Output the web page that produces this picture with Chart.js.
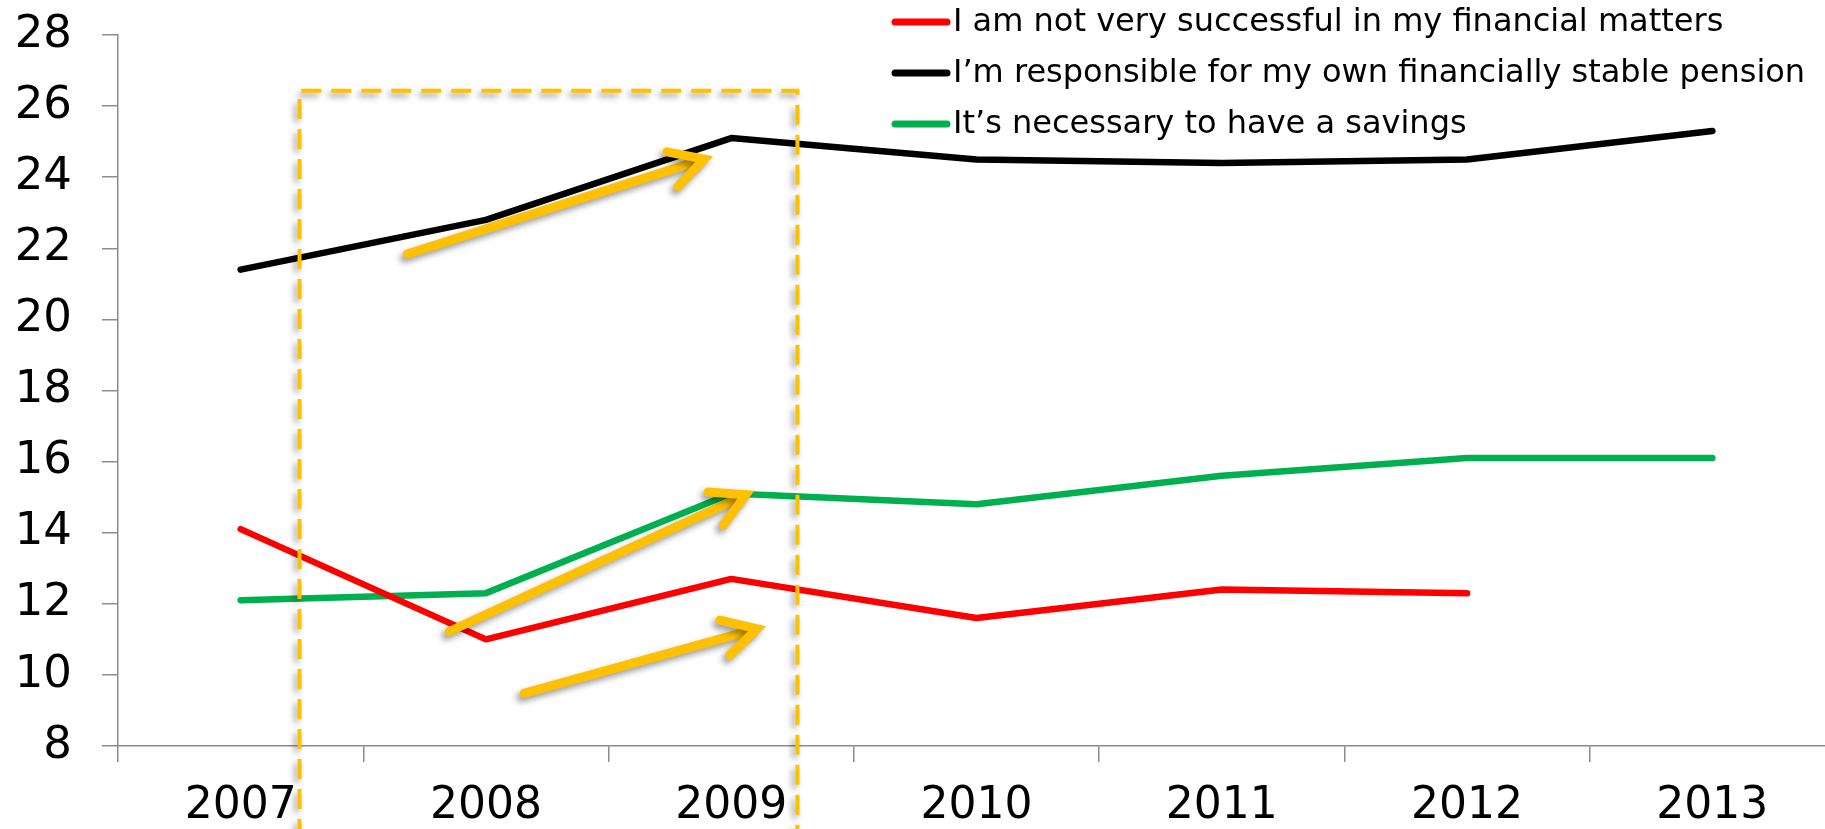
<!DOCTYPE html>
<html>
<head>
<meta charset="utf-8">
<script src="https://cdn.jsdelivr.net/npm/chart.js@4"></script>
<style>
  html, body { margin: 0; padding: 0; background: #fff; overflow: hidden; }
  #wrap { width: 1840px; height: 829px; }
</style>
</head>
<body>
<div id="wrap"><canvas id="trendChart" width="1840" height="829"></canvas></div>
<script>
// Chart values
const years = ['2007', '2008', '2009', '2010', '2011', '2012', '2013'];
const notSuccessful = [14.1, 11.0, 12.7, 11.6, 12.4, 12.3, null];
const ownPension = [21.4, 22.8, 25.1, 24.5, 24.4, 24.5, 25.3];
const needSavings = [12.1, 12.3, 15.1, 14.8, 15.6, 16.1, 16.1];
const yMin = 8;
const yMax = 28;
const yStep = 2;

const seriesLabels = [
  'I am not very successful in my financial matters',
  'I\u2019m responsible for my own financially stable pension',
  'It\u2019s necessary to have a savings'
];

// Highlight annotations, in category index / value units
const highlightBox = { x0: 0.24, x1: 2.27, yTop: 26.43 };
const arrows = [
  [0.68, 21.84, 1.89, 24.51],
  [0.85, 11.22, 2.06, 15.07],
  [1.155, 9.48, 2.105, 11.30]
];

document.addEventListener('DOMContentLoaded', function() {
  const ctx = document.getElementById('trendChart').getContext('2d');
  const orange = '#FFC000';

  const annotationPlugin = {
    id: 'highlights',
    afterDatasetsDraw(chart) {
      const c = chart.ctx;
      const xs = chart.scales.x;
      const ys = chart.scales.y;
      const px = v => xs.getPixelForValue(0) + v * (xs.getPixelForValue(1) - xs.getPixelForValue(0));
      c.save();
      c.shadowColor = 'rgba(0,0,0,0.4)';
      c.shadowBlur = 6;
      c.shadowOffsetX = -3;
      c.shadowOffsetY = 4;

      // dashed box, open at the bottom of the canvas
      c.strokeStyle = orange;
      c.lineWidth = 4;
      c.setLineDash([20, 10]);
      const left = px(highlightBox.x0);
      const right = px(highlightBox.x1);
      const top = ys.getPixelForValue(highlightBox.yTop);
      c.beginPath();
      c.moveTo(left, chart.height + 10);
      c.lineTo(left, top);
      c.lineTo(right, top);
      c.lineTo(right, chart.height + 10);
      c.stroke();

      // arrows
      c.setLineDash([]);
      c.lineWidth = 9;
      c.lineCap = 'round';
      c.lineJoin = 'miter';
      arrows.forEach(([a, b, d, e]) => {
        const x0 = px(a), y0 = ys.getPixelForValue(b);
        const x1 = px(d), y1 = ys.getPixelForValue(e);
        const ang = Math.atan2(y1 - y0, x1 - x0);
        const head = 38, spread = 0.5;
        c.beginPath();
        c.moveTo(x0, y0);
        c.lineTo(x1 - 6 * Math.cos(ang), y1 - 6 * Math.sin(ang));
        c.stroke();
        c.beginPath();
        c.moveTo(x1 - head * Math.cos(ang - spread), y1 - head * Math.sin(ang - spread));
        c.lineTo(x1, y1);
        c.lineTo(x1 - head * Math.cos(ang + spread), y1 - head * Math.sin(ang + spread));
        c.stroke();
      });
      c.restore();
    },
    afterDraw(chart) {
      // legend sitting over the top right of the plot
      const c = chart.ctx;
      c.save();
      c.font = '32px "DejaVu Sans"';
      c.textBaseline = 'middle';
      c.fillStyle = '#000';
      chart.data.datasets.forEach((ds, i) => {
        const y = 22 + i * 51;
        c.strokeStyle = ds.borderColor;
        c.lineWidth = 7;
        c.lineCap = 'round';
        c.beginPath();
        c.moveTo(895, y);
        c.lineTo(947, y);
        c.stroke();
        c.fillText(ds.label, 953, y + 1);
      });
      c.restore();
    }
  };

  new Chart(ctx, {
    type: 'line',
    data: {
      labels: years,
      datasets: [
        { label: seriesLabels[0], data: notSuccessful, borderColor: '#FF0000' },
        { label: seriesLabels[1], data: ownPension, borderColor: '#000000' },
        { label: seriesLabels[2], data: needSavings, borderColor: '#00B050' }
      ]
    },
    options: {
      responsive: false,
      animation: false,
      devicePixelRatio: 1,
      layout: { padding: { top: 35, right: 5, left: 0, bottom: 0 } },
      elements: {
        line: { borderWidth: 6.5, tension: 0, fill: false, borderCapStyle: 'round', borderJoinStyle: 'round' },
        point: { radius: 0, hoverRadius: 0 }
      },
      plugins: {
        legend: { display: false },
        tooltip: { enabled: false }
      },
      scales: {
        x: {
          offset: true,
          grid: { drawOnChartArea: false, offset: true, tickLength: 16, color: '#8c8c8c', lineWidth: 1.5 },
          border: { color: '#8c8c8c', width: 1.5 },
          ticks: { color: '#000', padding: 18, font: { family: 'DejaVu Sans', size: 44 } },
          afterFit: scale => { scale.height = 83; scale.paddingLeft = 0; scale.paddingRight = 0; }
        },
        y: {
          min: yMin,
          max: yMax,
          grid: { drawOnChartArea: false, tickLength: 16, color: '#8c8c8c', lineWidth: 1.5 },
          border: { color: '#8c8c8c', width: 1.5 },
          ticks: { stepSize: yStep, color: '#000', padding: 30, font: { family: 'DejaVu Sans', size: 45 } },
          afterFit: scale => { scale.width = 118; scale.paddingTop = 0; scale.paddingBottom = 0; }
        }
      }
    },
    plugins: [annotationPlugin]
  });
});
</script>
</body>
</html>
